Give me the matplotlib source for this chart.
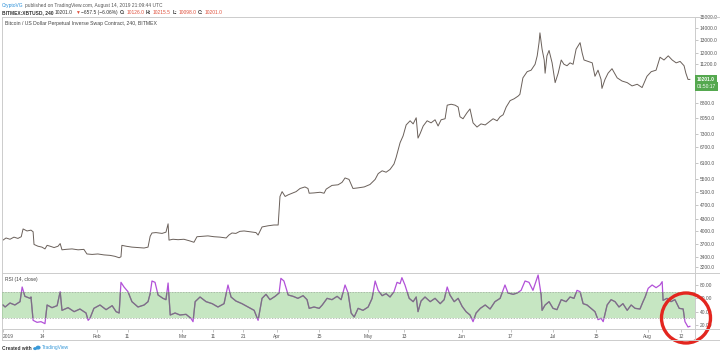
import matplotlib
matplotlib.use("Agg")
import matplotlib.pyplot as plt
from matplotlib.patches import Ellipse, Rectangle
import numpy as np

plt.rcParams['font.family'] = ['Liberation Sans', 'DejaVu Sans']

# ---------------- data ----------------
price_days = [0, 1, 2.3, 3.6, 4.9, 6, 6.6, 7.9, 9.2, 9.9, 10.2, 11.5, 12.8, 13.8, 14.5, 15.5, 16.8, 18.1, 18.8, 19.4,
              20.7, 22.7, 24.7, 26.6, 27.6, 29.3, 31.2, 33.2, 35.2, 36.8, 38.2, 38.8, 39.1, 40.5, 42.4, 44.4, 46.4, 47.7,
              48.4, 49, 50.3, 52.3, 53.6, 54.3, 54.6, 55.9, 57.6, 59.5, 61.5, 62.8, 63.8, 65.5, 67.4, 69.4, 71.4, 73.4,
              74.3, 75.3, 76.6, 77.9, 79.3, 81.2, 83.2, 83.9, 85.2, 87.2, 89.1, 90.5, 91.1, 91.8, 92.8, 93.8, 95.1, 96.4,
              97.7, 99.3, 100.3, 100.7, 102.3, 104.3, 105.6, 106.3, 108.2, 110.2, 111.5, 112.5, 113.8, 115.1, 116.8,
              118.8, 120.7, 122.4, 123.4, 124.7, 126, 127.3, 128.6, 129.3, 130.6, 131.6, 132.6, 133.9, 134.9, 135.9,
              136.5, 137.2, 138.2, 139.5, 140.8, 142.1, 143.1, 144.1, 145.4, 146.1, 147.4, 148.7, 149.7, 150.3, 151.3,
              152.6, 153.6, 154.6, 155.9, 157.2, 158.6, 159.9, 161.2, 162.5, 163.5, 164.5, 165.5, 166.8, 168.1, 169.4,
              170, 171, 172.4, 173.7, 175, 175.7, 176.3, 176.6, 177.3, 178, 178.3, 178.9, 179.6, 180.6, 181.6, 182.6,
              183.6, 184.5, 185.5, 186.5, 187.5, 188.5, 189.8, 190.5, 191.1, 192.4, 193.8, 194.7, 195.7, 196.7, 197,
              198, 199, 200.3, 202, 203.6, 205.3, 206.9, 208.6, 210.2, 211.8, 213.2, 214.8, 216.1, 217.4, 218.8, 220.1,
              221.4, 222.7, 224, 224.6, 225.3, 225.9]
price_close = [3780, 3830, 3800, 3850, 3820, 3860, 4050, 4000, 4020, 3980, 3680, 3640, 3620, 3580, 3660, 3640, 3610,
               3640, 3700, 3560, 3570, 3580, 3560, 3570, 3470, 3460, 3470, 3450, 3440, 3420, 3390, 3410, 3660, 3640,
               3620, 3610, 3600, 3620, 3870, 3950, 3960, 3940, 3970, 4180, 3780, 3800, 3790, 3800, 3760, 3730, 3860,
               3870, 3880, 3860, 3850, 3830, 3900, 3950, 3940, 3990, 4000, 3980, 3960, 3900, 4100, 4130, 4150, 4150,
               4950, 5100, 4950, 5000, 5050, 5100, 5200, 5250, 5200, 5050, 5060, 5080, 5050, 5180, 5300, 5320, 5400,
               5550, 5500, 5200, 5220, 5250, 5330, 5500, 5700, 5800, 5750, 5850, 6050, 6300, 6900, 7200, 7700, 7900,
               7750, 8050, 7100, 7300, 7650, 7900, 7800, 7950, 7650, 7950, 8000, 8700, 8750, 8700, 8600, 8100, 8000,
               8300, 8500, 7800, 7600, 7750, 7700, 7850, 8000, 7900, 8100, 8200, 8600, 8950, 9050, 9200, 9300, 10300,
               10700, 10800, 11200, 11800, 12800, 13600, 12300, 11500, 10600, 11800, 12200, 11300, 10000, 10600,
               11500, 11200, 11100, 11300, 11200, 12300, 12800, 12000, 11500, 11400, 11300, 10400, 10800, 10200,
               9650, 10200, 10600, 10900, 10300, 10100, 10000, 9800, 9900, 9700, 10400, 10700, 10800, 11700, 11500,
               11800, 11500, 11300, 11400, 11100, 10600, 10200, 10201]

rsi_days = [0, 0.7, 2.3, 3.9, 5.6, 6.3, 7.2, 8.9, 9.2, 9.9, 11.2, 12.5, 13.8, 14.5, 16.1, 17.8, 18.8, 19.4, 21.4, 23.4,
            25.3, 27.3, 28.0, 28.6, 29.9, 31.9, 33.9, 35.9, 37.2, 38.2, 38.8, 39.8, 41.1, 42.4, 44.4, 46.4, 47.7, 48.4,
            49, 50, 51, 52.6, 53.6, 54.3, 55, 56.6, 58.2, 60.2, 61.8, 62.5, 63.2, 64.8, 66.8, 68.8, 70.7, 72.7, 74,
            75, 76.6, 78.6, 80.6, 82.6, 83.9, 85.2, 86.5, 87.8, 89.5, 90.8, 91.4, 92.4, 93.8, 95.4, 97, 98.7, 100,
            100.7, 102.3, 104, 105, 106.6, 108.2, 109.9, 111.2, 112.5, 113.5, 114.5, 115.5, 116.8, 118.4, 120.1,
            121.4, 122.4, 123.4, 124.7, 126, 127.3, 128.6, 129.6, 130.6, 131.2, 132.2, 133.6, 134.9, 135.9, 136.5,
            137.5, 138.8, 140.5, 142.1, 143.8, 145.1, 146.1, 147, 148.4, 149.7, 151, 152.3, 153.6, 154.6, 155.6, 157,
            158.6, 160.2, 161.8, 163.5, 165.1, 166.1, 167.8, 169.1, 170.4, 171.7, 173, 174.3, 176, 177, 177.3, 178.3,
            179.6, 180.9, 182.2, 183.6, 185.2, 186.5, 187.8, 188.8, 189.8, 190.8, 192.1, 193.4, 194.7, 195.7, 196.7,
            197.4, 198.7, 200, 201.3, 202.6, 203.9, 205.3, 206.6, 207.9, 209.5, 210.5, 211.2, 212.2, 213.5, 214.8,
            216.1, 216.8, 217.1, 218.4, 219.7, 221, 222.4, 223.7, 224.3, 225.3, 225.9]
rsi_values = [50, 47, 53, 50, 55, 77, 63, 60, 62, 27, 24, 25, 22, 50, 46, 49, 70, 42, 46, 40,
              44, 38, 27, 30, 45, 50, 43, 49, 40, 38, 84, 77, 70, 55, 47, 50, 55, 67,
              86, 84, 65, 60, 58, 83, 35, 38, 35, 36, 30, 25, 55, 62, 55, 52, 47, 52, 80,
              62, 56, 52, 47, 42, 27, 60, 66, 58, 63, 68, 90, 86, 65, 63, 60, 64, 58,
              45, 47, 45, 50, 60, 58, 63, 58, 80, 68, 38, 32, 45, 42, 47,
              60, 86, 72, 64, 67, 62, 70, 84, 82, 91, 80, 60, 55, 62, 40,
              56, 62, 55, 60, 52, 58, 77, 65, 55, 60, 48, 40, 35, 25, 38, 45,
              50, 44, 55, 60, 80, 68, 66, 68, 72, 86, 84, 72, 95, 65, 42, 50,
              55, 45, 43, 58, 55, 62, 60, 72, 70, 52, 50, 45, 40, 28, 30,
              25, 50, 58, 55, 47, 52, 42, 50, 45, 44, 55, 62, 75, 80, 76,
              80, 85, 57, 60, 55, 58, 45, 44, 25, 17, 18]

# visible price scale labels (10400 / 9600 sit under the last-price boxes)
price_ticks = [15000, 14000, 13000, 12000, 11200, 8800, 8050, 7300, 6700, 6100, 5500, 5100,
               4700, 4300, 4000, 3700, 3400, 3200]
rsi_ticks = [80, 60, 40, 20]
date_tick_days = [0, 13, 31, 41, 59, 69, 79, 90, 104, 120, 132, 151, 167, 181, 195, 212, 223]
date_tick_labels = ['2019', '14', 'Feb', '11', 'Mar', '11', '21', 'Apr', '15', 'May', '13', 'Jun', '17', 'Jul',
                    '15', 'Aug', '12']
rsi_band = (30, 70)
last_price = 10201.0
countdown = '01:50:17'

# ---------------- figure ----------------
W, H = 720, 354
fig = plt.figure(figsize=(W / 100, H / 100), dpi=100)
fig.patch.set_facecolor('white')


def fx(px):
    return px / W


def fy(py):
    return 1 - py / H


left, right = 2, 695
ax = fig.add_axes([fx(left), fy(273), fx(right - left), (273 - 17) / H])
axr = fig.add_axes([fx(left), fy(329), fx(right - left), (329 - 273) / H], sharex=ax)

grey_line = '#cccccc'
label_col = '#555555'
fs = 3.5

# price panel
ax.plot(price_days, price_close, color='#6a605a', lw=0.7)
ax.set_yscale('log')
ax.set_ylim(3085, 15000)
ax.set_xlim(-0.33, 227.6)
ax.yaxis.tick_right()
ax.set_yticks(price_ticks)
ax.set_yticklabels([f'{t:.1f}' for t in price_ticks])
ax.yaxis.set_minor_locator(matplotlib.ticker.NullLocator())
ax.tick_params(axis='y', labelsize=fs, colors=label_col, length=2, width=0.4, pad=1.5, color='#999999')
ax.tick_params(axis='x', bottom=False, labelbottom=False)
for s in ax.spines.values():
    s.set_color(grey_line)
    s.set_linewidth(0.7)
ax.text(0.005, 0.985, 'Bitcoin / US Dollar Perpetual Inverse Swap Contract, 240, BITMEX', transform=ax.transAxes,
        fontsize=3.7, color='#444444', va='top', ha='left')

# RSI panel: purple line, green band, and the same line in grey inside the band
axr.plot(rsi_days, rsi_values, color='#b251d8', lw=0.9, zorder=2)
axr.axhspan(rsi_band[0], rsi_band[1], color='#8fcf86', alpha=0.5, lw=0, zorder=3)
clip = Rectangle((-10, rsi_band[0]), 300, rsi_band[1] - rsi_band[0], transform=axr.transData)
inner, = axr.plot(rsi_days, rsi_values, color='#7d6f86', lw=0.9, zorder=4)
inner.set_clip_path(clip)
for v in rsi_band:
    axr.axhline(v, color='#a0a8a0', lw=0.5, ls=(0, (2, 2)), zorder=5)
axr.set_ylim(14, 98)
axr.yaxis.tick_right()
axr.set_yticks(rsi_ticks)
axr.set_yticklabels([f'{t:.2f}' for t in rsi_ticks])
axr.tick_params(axis='y', labelsize=fs, colors=label_col, length=2, width=0.4, pad=1.5, color='#999999')
axr.set_xticks(date_tick_days)
axr.set_xticklabels(date_tick_labels)
axr.tick_params(axis='x', labelsize=fs, colors=label_col, length=2, width=0.4, pad=1.5, color='#999999')
axr.get_xticklabels()[0].set_horizontalalignment('left')
for s in axr.spines.values():
    s.set_color(grey_line)
    s.set_linewidth(0.7)
axr.text(0.005, 0.93, 'RSI (14, close)', transform=axr.transAxes, fontsize=fs, color='#444444', va='top',
         ha='left')

# outer frame lines for date strip / price scale
for (x0, y0, x1, y1) in [(left, 340, 720, 340), (left, 340, left, 329), (right, 340, right, 329),
                         (right, 17, 720, 17), (right, 273, 720, 273), (right, 329, 720, 329)]:
    fig.add_artist(plt.Line2D([fx(x0), fx(x1)], [fy(y0), fy(y1)], color=grey_line, lw=0.7))

# last price boxes
green = '#55a84f'
fig.text(fx(697), fy(79.5), f'{last_price:.1f}', fontsize=fs, color='white', va='center', ha='left',
         fontweight='bold', bbox=dict(boxstyle='square,pad=0.35', fc=green, ec=green, lw=0))
fig.text(fx(697), fy(86.5), countdown, fontsize=fs, color='white', va='center', ha='left',
         bbox=dict(boxstyle='square,pad=0.35', fc=green, ec=green, lw=0))

# header texts drawn piecewise
renderer = fig.canvas.get_renderer()


def seq(parts, x0, y0, size, gap=1.1):
    x = x0
    for txt, col, bold in parts:
        t = fig.text(fx(x), fy(y0), txt, fontsize=size, color=col, va='center', ha='left',
                     fontweight='bold' if bold else 'normal')
        bb = t.get_window_extent(renderer)
        x += bb.width + gap
    return x


seq([('CryptoVG', '#2a8fd8', False), ('published on TradingView.com, August 14, 2019 21:09:44 UTC', '#555555', False)],
    2, 5, 3.55)
red = '#e0503c'
seq([('BITMEX:XBTUSD, 240', '#333333', True), ('10201.0', '#333333', False), ('\u25bc', red, False),
     ('\u2212657.5 (\u22126.06%)', '#333333', False), ('O:', '#333333', True), ('10126.0', red, False),
     ('H:', '#333333', True), ('10215.5', red, False), ('L:', '#333333', True), ('10098.0', red, False),
     ('C:', '#333333', True), ('10201.0', red, False)], 2, 12.5, 3.5, gap=1.6)

# footer
xe = seq([('Created with', '#333333', True)], 2, 348, 3.5, gap=1.5)
fig.add_artist(Ellipse((fx(xe + 2), fy(348.6)), 4 / W, 3 / H, transform=fig.transFigure, fc='#3a9ad9', ec='none'))
fig.add_artist(Ellipse((fx(xe + 5), fy(347.6)), 5 / W, 4 / H, transform=fig.transFigure, fc='#3a9ad9', ec='none'))
fig.text(fx(xe + 9), fy(348), 'TradingView', fontsize=3.5, color='#3a9ad9', va='center', ha='left')

# red circle annotation
fig.add_artist(Ellipse((fx(686), fy(318)), 49 / W, 50 / H, transform=fig.transFigure, fill=False,
                       ec='#e3261f', lw=2.4))

fig.savefig('out.png', dpi=100)
